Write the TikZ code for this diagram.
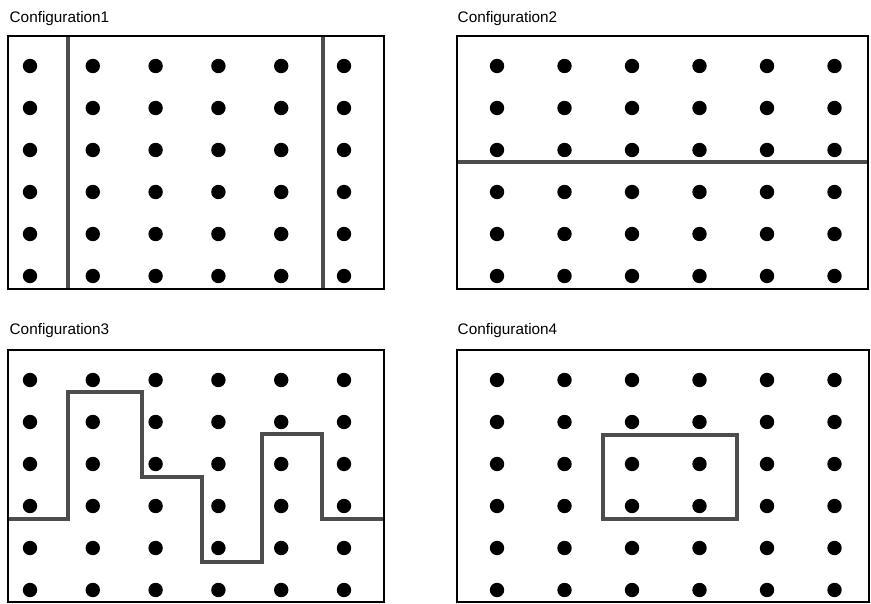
\documentclass[tikz,border=0pt]{standalone}
\usepackage{fontspec}
\setmainfont{Liberation Sans}
\definecolor{divgray}{HTML}{4D4D4D}
\begin{document}
\begin{tikzpicture}[x=1pt,y=-1pt,
  frame/.style={draw=black,line width=2pt},
  divider/.style={draw=divgray,line width=4pt,line join=miter},
  dot/.style={fill=black},
  lbl/.style={anchor=base west,inner sep=0pt,font=\fontsize{15.3}{18}\selectfont}]
\useasboundingbox (0,0) rectangle (871,604);
% labels
\node[lbl] (l1) at (9.5,22.5) {Configuration1};
\node[lbl] (l2) at (457.5,22.5) {Configuration2};
\node[lbl] (l3) at (9.5,334.5) {Configuration3};
\node[lbl] (l4) at (457.5,334.5) {Configuration4};
% panel 1
\foreach \cx in {30,92.8,155.6,218.4,281.2,344}
  \foreach \cy in {66,108,150,192,234,276}
    \fill[dot] (\cx,\cy) circle (7.2);
\draw[divider] (68,36) -- (68,289);
\draw[divider] (322.5,36) -- (322.5,289);
\draw[frame] (8,36) rectangle (383.5,289);
% panel 2
\foreach \cx in {497,564.5,632,699.5,767,834.5}
  \foreach \cy in {66,108,150,192,234,276}
    \fill[dot] (\cx,\cy) circle (7.2);
\draw[divider] (457,162) -- (868,162);
\draw[frame] (457,36) rectangle (868,289);
% panel 3
\foreach \cx in {30,92.8,155.6,218.4,281.2,344}
  \foreach \cy in {380,422,464,506,548,590}
    \fill[dot] (\cx,\cy) circle (7.2);
\draw[divider] (8,519) -- (68,519) -- (68,392) -- (141.5,392) -- (141.5,477)
  -- (201.5,477) -- (201.5,562) -- (262,562) -- (262,434) -- (322,434)
  -- (322,519) -- (384,519);
\draw[frame] (8,350) rectangle (384,602);
% panel 4
\foreach \cx in {497,564.5,632,699.5,767,834.5}
  \foreach \cy in {380,422,464,506,548,590}
    \fill[dot] (\cx,\cy) circle (7.2);
\draw[divider] (602.5,434.5) rectangle (736.5,518.5);
\draw[frame] (457,350) rectangle (868.5,601.5);
\end{tikzpicture}
\end{document}
